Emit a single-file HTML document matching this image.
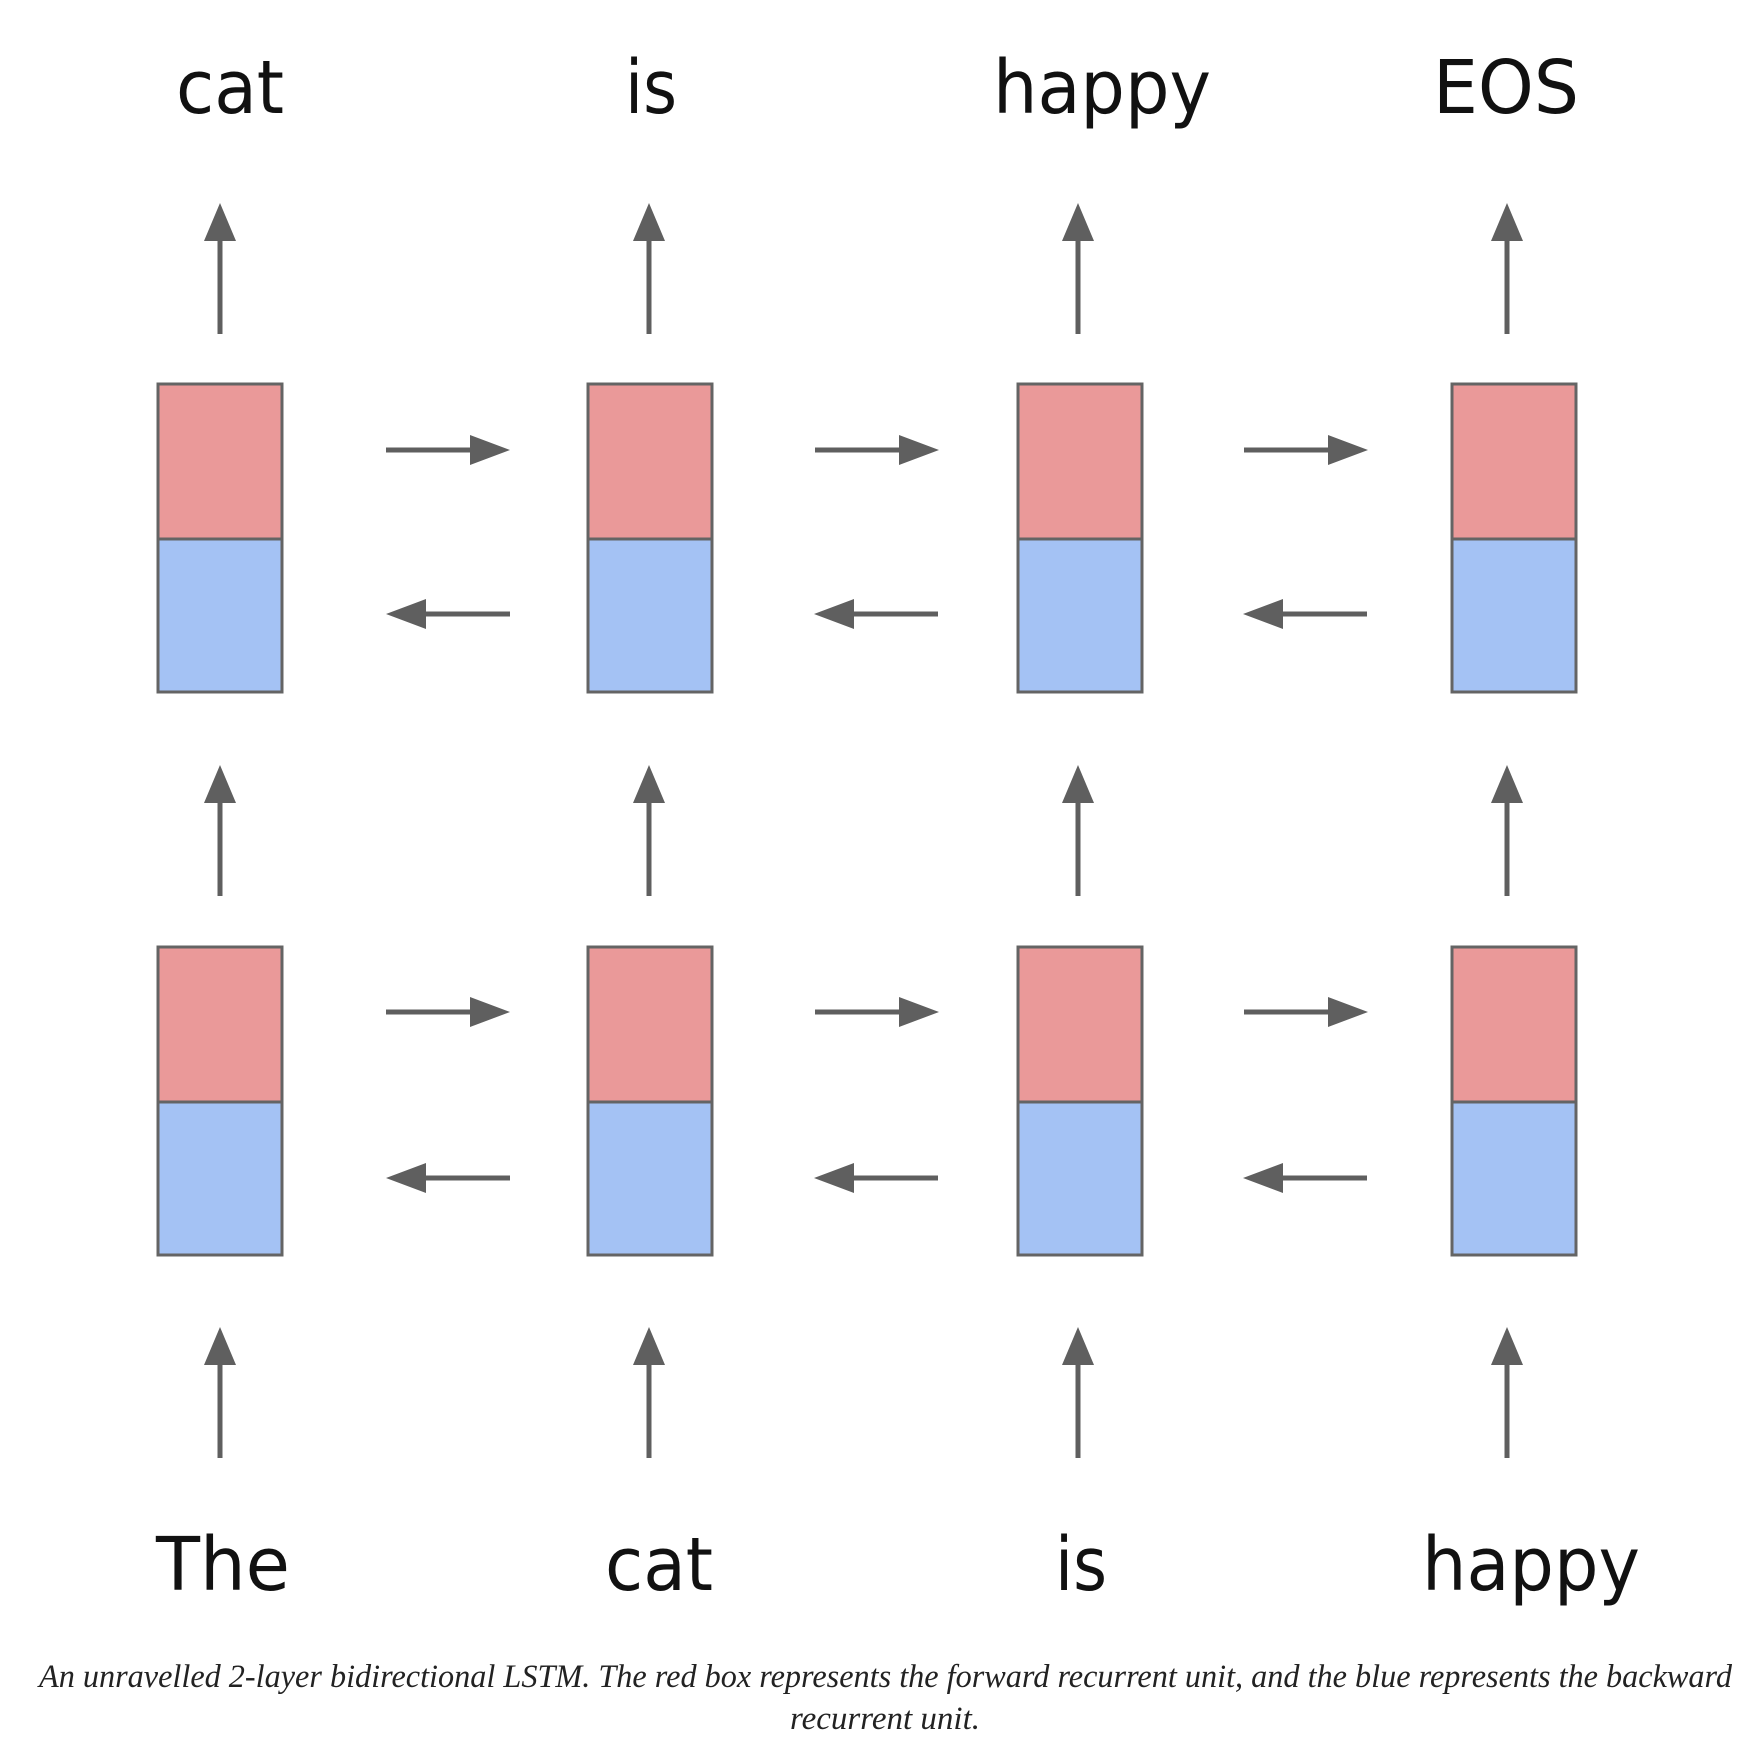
<!DOCTYPE html>
<html><head><meta charset="utf-8"><style>html,body{margin:0;padding:0;background:#fff}svg{display:block}</style></head>
<body>
<svg width="1757" height="1743" viewBox="0 0 1757 1743" xmlns="http://www.w3.org/2000/svg">
<defs>
<g id="up"><line x1="0" y1="34" x2="0" y2="131" stroke="#5f5f5f" stroke-width="5"/><polygon points="-16,38 16,38 0,0" fill="#5f5f5f"/></g>
<g id="rt"><line x1="0" y1="0" x2="90" y2="0" stroke="#5f5f5f" stroke-width="5"/><polygon points="84,-15 84,15 124,0" fill="#5f5f5f"/></g>
<g id="lt"><line x1="34" y1="0" x2="124" y2="0" stroke="#5f5f5f" stroke-width="5"/><polygon points="40,-15 40,15 0,0" fill="#5f5f5f"/></g>
<g id="box"><rect x="0" y="0" width="124" height="155" fill="#ea9999" stroke="#646464" stroke-width="3"/><rect x="0" y="155" width="124" height="153" fill="#a4c2f4" stroke="#646464" stroke-width="3"/></g>
</defs>
<g font-family="'DejaVu Sans','Liberation Sans',sans-serif" font-size="74" fill="#111">
<text x="176" y="113" textLength="108" lengthAdjust="spacingAndGlyphs">cat</text>
<text x="625" y="113" textLength="52" lengthAdjust="spacingAndGlyphs">is</text>
<text x="993" y="113" textLength="218" lengthAdjust="spacingAndGlyphs">happy</text>
<text x="1433" y="113" textLength="146" lengthAdjust="spacingAndGlyphs">EOS</text>
<text x="156" y="1590" textLength="134" lengthAdjust="spacingAndGlyphs">The</text>
<text x="605" y="1590" textLength="108" lengthAdjust="spacingAndGlyphs">cat</text>
<text x="1055" y="1590" textLength="52" lengthAdjust="spacingAndGlyphs">is</text>
<text x="1422" y="1590" textLength="218" lengthAdjust="spacingAndGlyphs">happy</text>
</g>
<g>
<use href="#up" x="220" y="203"/><use href="#up" x="649" y="203"/><use href="#up" x="1078" y="203"/><use href="#up" x="1507" y="203"/>
<use href="#up" x="220" y="765"/><use href="#up" x="649" y="765"/><use href="#up" x="1078" y="765"/><use href="#up" x="1507" y="765"/>
<use href="#up" x="220" y="1327"/><use href="#up" x="649" y="1327"/><use href="#up" x="1078" y="1327"/><use href="#up" x="1507" y="1327"/>
<use href="#box" x="158" y="384"/><use href="#box" x="588" y="384"/><use href="#box" x="1018" y="384"/><use href="#box" x="1452" y="384"/>
<use href="#box" x="158" y="947"/><use href="#box" x="588" y="947"/><use href="#box" x="1018" y="947"/><use href="#box" x="1452" y="947"/>
<use href="#rt" x="386" y="450"/><use href="#rt" x="815" y="450"/><use href="#rt" x="1244" y="450"/>
<use href="#lt" x="386" y="614"/><use href="#lt" x="814" y="614"/><use href="#lt" x="1243" y="614"/>
<use href="#rt" x="386" y="1012"/><use href="#rt" x="815" y="1012"/><use href="#rt" x="1244" y="1012"/>
<use href="#lt" x="386" y="1178"/><use href="#lt" x="814" y="1178"/><use href="#lt" x="1243" y="1178"/>
</g>
<g font-family="'Liberation Serif',serif" font-style="italic" font-size="33" fill="#222">
<text x="39" y="1687" textLength="1693" lengthAdjust="spacingAndGlyphs">An unravelled 2-layer bidirectional LSTM. The red box represents the forward recurrent unit, and the blue represents the backward</text>
<text x="790" y="1729" textLength="190" lengthAdjust="spacingAndGlyphs">recurrent unit.</text>
</g>
</svg>
</body></html>
